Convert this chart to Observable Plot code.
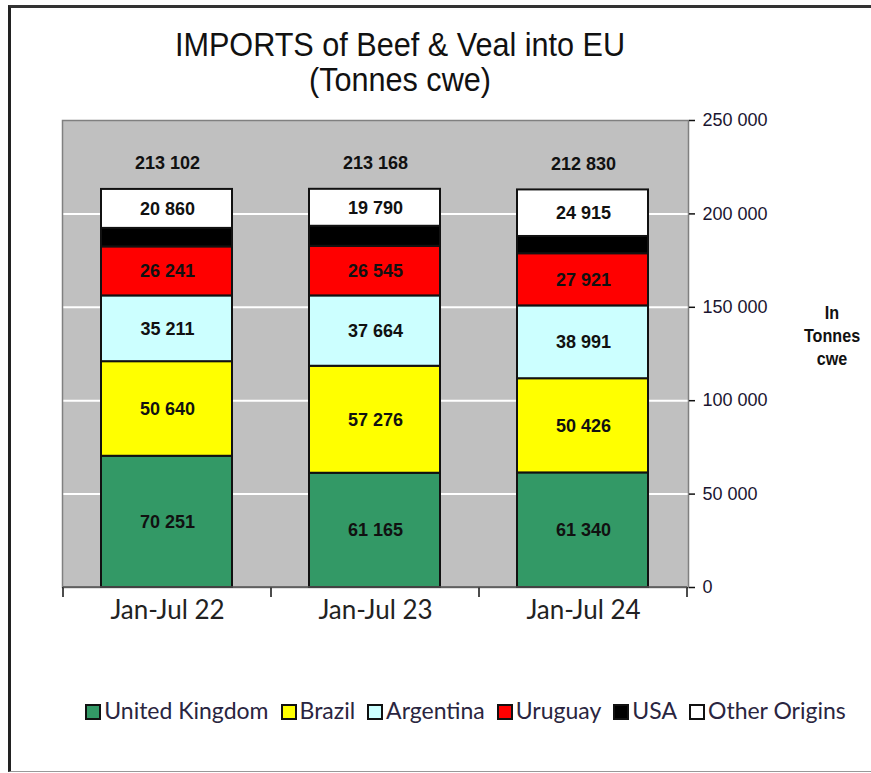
<!DOCTYPE html>
<html>
<head>
<meta charset="utf-8">
<script src="https://cdn.jsdelivr.net/npm/d3@7"></script>
<script src="https://cdn.jsdelivr.net/npm/@observablehq/plot@0.6"></script>
<style>
  html, body { margin: 0; padding: 0; background: #fff; }
  body { width: 871px; height: 773px; position: relative; overflow: hidden; }
  #frame { position: absolute; left: 8px; top: 5px; width: 870px; height: 767px;
           border-left: 3px solid #222; border-top: 3px solid #333; border-bottom: 1px solid #999; box-sizing: border-box; }
  #title { position: absolute; left: 0; width: 800px; top: 27px; text-align: center;
           font-family: "Liberation Sans", Arial, sans-serif; font-size: 34px; line-height: 35px; color: #111;
           transform: scaleX(0.9); transform-origin: 400px 0; }
  #unit { position: absolute; left: 790px; width: 84px; top: 301px; text-align: center;
          font-family: "Liberation Sans", Arial, sans-serif; font-weight: bold; font-size: 19px; line-height: 23px; color: #111;
          transform: scaleX(0.85); transform-origin: 42px 0; }
  #chart { position: absolute; left: 0; top: 100px; }
  #legend { position: absolute; left: 30px; width: 871px; top: 696px; text-align: center;
            font-family: Lato, "Open Sans", sans-serif; font-size: 23px; color: #2a2540; white-space: nowrap; }
  #legend span.item { margin: 0 6px; }
  #legend i { display: inline-block; width: 12px; height: 12px; border: 2px solid #111; margin-right: 3px; vertical-align: -1px; }
</style>
</head>
<body>
<div id="frame"></div>
<div id="title">IMPORTS of Beef &amp; Veal into EU<br>(Tonnes cwe)</div>
<div id="unit">In<br>Tonnes<br>cwe</div>
<div id="chart"></div>
<div id="legend"></div>
<script>
const periods = ["Jan-Jul 22", "Jan-Jul 23", "Jan-Jul 24"];
const origins = ["United Kingdom", "Brazil", "Argentina", "Uruguay", "USA", "Other Origins"];
const colors = ["#339966", "#ffff00", "#ccffff", "#ff0000", "#000000", "#ffffff"];
const unitedKingdom = [70251, 61165, 61340];
const brazil = [50640, 57276, 50426];
const argentina = [35211, 37664, 38991];
const uruguay = [26241, 26545, 27921];
const usa = [9899, 10728, 9237];
const otherOrigins = [20860, 19790, 24915];
const totals = [213102, 213168, 212830];
const yTicks = [0, 50000, 100000, 150000, 200000, 250000];
const gridTicks = [50000, 100000, 150000, 200000];

const seriesValues = [unitedKingdom, brazil, argentina, uruguay, usa, otherOrigins];
const data = [];
periods.forEach((p, i) => {
  origins.forEach((o, j) => data.push({period: p, origin: o, value: seriesValues[j][i], labelled: o !== "USA"}));
});
const totalData = periods.map((p, i) => ({period: p, total: totals[i]}));
const fmt = v => d3.format(",")(v).replace(/,/g, " ");
const sans = '"Liberation Sans", Arial, sans-serif';

const boundaryTicks = (index, scales, values, dims) => {
  const g = d3.create("svg:g");
  const starts = periods.map(p => scales.x(p));
  const step = starts[1] - starts[0];
  const edges = [...starts, starts[starts.length - 1] + step];
  const y0 = dims.height - dims.marginBottom;
  edges.forEach(x => {
    g.append("line").attr("x1", x).attr("x2", x).attr("y1", y0).attr("y2", y0 + 10)
      .attr("stroke", "#111").attr("stroke-width", 1.5);
  });
  g.append("line").attr("x1", edges[0]).attr("x2", edges[edges.length - 1]).attr("y1", y0).attr("y2", y0)
    .attr("stroke", "#555").attr("stroke-width", 1.5);
  return g.node();
};

const chart = Plot.plot({
  width: 871,
  height: 560,
  marginLeft: 62,
  marginRight: 183,
  marginTop: 20,
  marginBottom: 73,
  x: {domain: periods, padding: 0, axis: null},
  y: {domain: [0, 250000], axis: null},
  color: {domain: origins, range: colors},
  style: {fontFamily: sans, background: "transparent", overflow: "visible"},
  marks: [
    Plot.frame({fill: "#c0c0c0"}),
    Plot.ruleY(gridTicks, {stroke: "#ffffff", strokeWidth: 2}),
    Plot.frame({stroke: "#808080", strokeWidth: 1.5}),
    Plot.axisY({anchor: "right", ticks: yTicks, tickSize: 6, tickPadding: 8, tickFormat: fmt, fontSize: 18, stroke: "#111", fill: "#1a1530", strokeWidth: 1.5}),
    Plot.barY(data, {x: "period", y: "value", fill: "origin", stroke: "#111", strokeWidth: 2, insetLeft: 38, insetRight: 39}),
    Plot.text(data, Plot.stackY({x: "period", y: "value", z: "origin", text: d => d.labelled ? fmt(d.value) : "", fontSize: 18, fill: "#111", fontWeight: "bold"})),
    Plot.text(totalData, {x: "period", y: "total", text: d => fmt(d.total), dy: -26, fontSize: 18, fill: "#111", fontWeight: "bold"}),
    boundaryTicks,
    Plot.text(periods, {x: d => d, frameAnchor: "bottom", dy: 31, fontSize: 26, fill: "#222", fontFamily: 'Lato, "Open Sans", sans-serif'})
  ]
});
document.getElementById("chart").appendChild(chart);

const legend = document.getElementById("legend");
origins.forEach((o, j) => {
  const s = document.createElement("span");
  s.className = "item";
  s.innerHTML = `<i style="background:${colors[j]}"></i>${o}`;
  legend.appendChild(s);
});
</script>
</body>
</html>
